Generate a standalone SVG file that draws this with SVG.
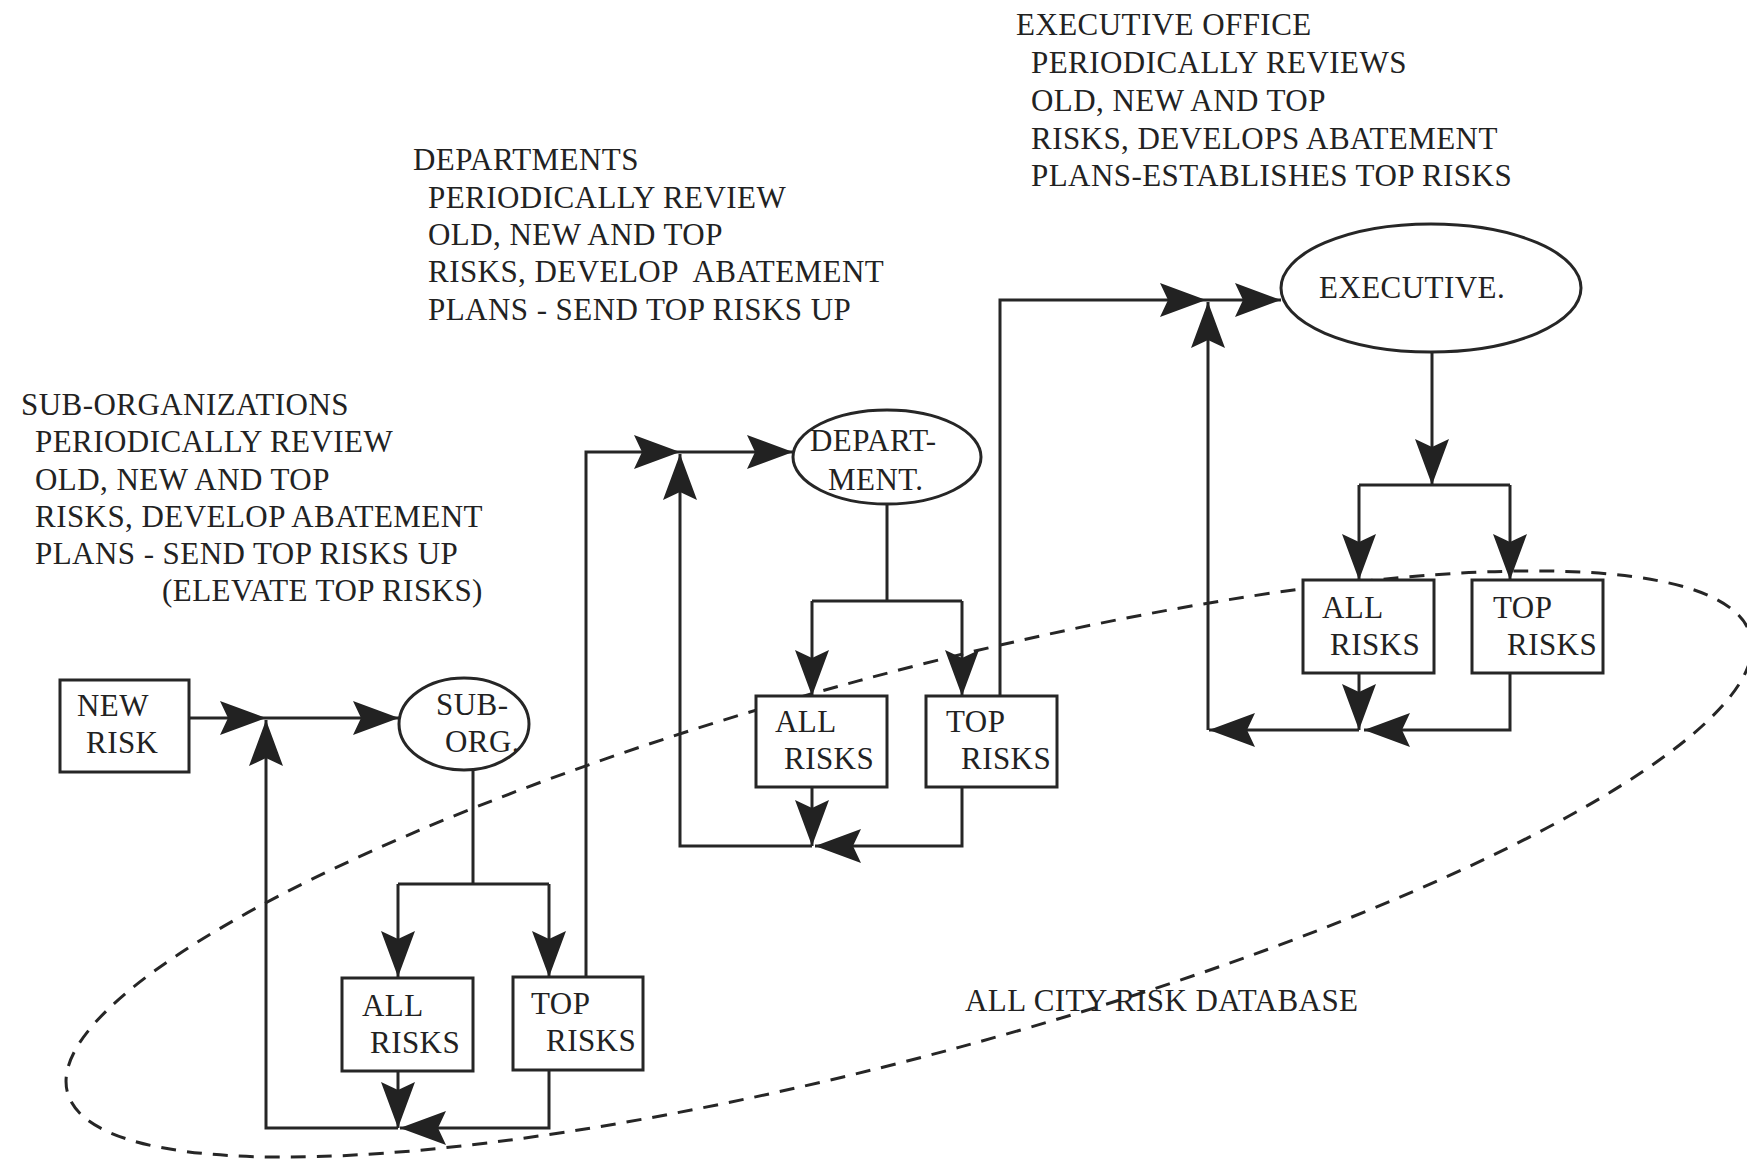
<svg xmlns="http://www.w3.org/2000/svg" width="1747" height="1159" viewBox="0 0 1747 1159">
<defs>
<style>
.t{font-family:"Liberation Serif","Times New Roman",serif;font-size:31px;fill:#222;letter-spacing:0.45px}
.box{fill:#fff;stroke:#262626;stroke-width:3}
.ell{fill:#fff;stroke:#262626;stroke-width:3}
.ln{fill:none;stroke:#262626;stroke-width:3}
.ar{fill:none;stroke:#262626;stroke-width:3;marker-end:url(#ah)}
.db{fill:none;stroke:#262626;stroke-width:3;stroke-dasharray:15 11}
</style>
<marker id="ah" markerUnits="userSpaceOnUse" markerWidth="48" markerHeight="36" viewBox="0 0 48 36" refX="47" refY="18" orient="auto">
<path d="M47,18 L1,1 L9,18 L1,35 Z" fill="#222"/>
</marker>
</defs>
<rect x="0" y="0" width="1747" height="1159" fill="#fff"/>

<g id="database">
<ellipse class="db" cx="909" cy="864" rx="872" ry="190" transform="rotate(-15.2 909 864)"/>
<text class="t" x="965" y="1011">ALL CITY RISK DATABASE</text>
</g>

<g id="notes">
<text class="t" x="21" y="415">SUB-ORGANIZATIONS</text>
<text class="t" x="35" y="452">PERIODICALLY REVIEW</text>
<text class="t" x="35" y="490">OLD, NEW AND TOP</text>
<text class="t" x="35" y="527">RISKS, DEVELOP ABATEMENT</text>
<text class="t" x="35" y="564">PLANS - SEND TOP RISKS UP</text>
<text class="t" x="162" y="601">(ELEVATE TOP RISKS)</text>

<text class="t" x="413" y="170">DEPARTMENTS</text>
<text class="t" x="428" y="208">PERIODICALLY REVIEW</text>
<text class="t" x="428" y="245">OLD, NEW AND TOP</text>
<text class="t" x="428" y="282" xml:space="preserve">RISKS, DEVELOP  ABATEMENT</text>
<text class="t" x="428" y="320">PLANS - SEND TOP RISKS UP</text>

<text class="t" x="1016" y="35">EXECUTIVE OFFICE</text>
<text class="t" x="1031" y="73">PERIODICALLY REVIEWS</text>
<text class="t" x="1031" y="111">OLD, NEW AND TOP</text>
<text class="t" x="1031" y="149">RISKS, DEVELOPS ABATEMENT</text>
<text class="t" x="1031" y="186">PLANS-ESTABLISHES TOP RISKS</text>
</g>

<g id="connectors">
<path class="ar" d="M189,718 H266"/>
<path class="ar" d="M266,718 H399"/>
<path class="ln" d="M473,770 V884 M398,884 H549"/>
<path class="ar" d="M398,884 V977"/>
<path class="ar" d="M549,884 V977"/>
<path class="ar" d="M398,1071 V1128"/>
<path class="ar" d="M549,1070 V1128 H400"/>
<path class="ar" d="M398,1128 H266 V720"/>
<path class="ar" d="M586,977 V452 H680"/>
<path class="ar" d="M680,452 H793"/>
<path class="ln" d="M887,504 V601 M812,601 H962"/>
<path class="ar" d="M812,601 V696"/>
<path class="ar" d="M962,601 V696"/>
<path class="ar" d="M812,787 V846"/>
<path class="ar" d="M962,787 V846 H815"/>
<path class="ar" d="M812,846 H680 V454"/>
<path class="ar" d="M1000,696 V300 H1206"/>
<path class="ar" d="M1206,300 H1281"/>
<path class="ar" d="M1432,352 V485"/>
<path class="ln" d="M1359,485 H1510"/>
<path class="ar" d="M1359,485 V580"/>
<path class="ar" d="M1510,485 V580"/>
<path class="ar" d="M1359,673 V730"/>
<path class="ar" d="M1510,673 V730 H1364"/>
<path class="ar" d="M1359,730 H1209"/>
<path class="ar" d="M1208,730 V302"/>
</g>

<g id="new-risk">
<rect class="box" x="60" y="680" width="129" height="92"/>
<text class="t" x="77" y="716">NEW</text>
<text class="t" x="86" y="753">RISK</text>
</g>

<g id="sub-org">
<ellipse class="ell" cx="464" cy="724" rx="65" ry="46"/>
<text class="t" x="436" y="715">SUB-</text>
<text class="t" x="445" y="752">ORG.</text>
</g>

<g id="sub-all-risks">
<rect class="box" x="342" y="978" width="131" height="93"/>
<text class="t" x="362" y="1016">ALL</text>
<text class="t" x="370" y="1053">RISKS</text>
</g>

<g id="sub-top-risks">
<rect class="box" x="513" y="977" width="130" height="93"/>
<text class="t" x="531" y="1014">TOP</text>
<text class="t" x="546" y="1051">RISKS</text>
</g>

<g id="department">
<ellipse class="ell" cx="887" cy="457" rx="94" ry="47"/>
<text class="t" x="810" y="451">DEPART-</text>
<text class="t" x="828" y="490">MENT.</text>
</g>

<g id="dept-all-risks">
<rect class="box" x="756" y="696" width="131" height="91"/>
<text class="t" x="775" y="732">ALL</text>
<text class="t" x="784" y="769">RISKS</text>
</g>

<g id="dept-top-risks">
<rect class="box" x="926" y="696" width="131" height="91"/>
<text class="t" x="946" y="732">TOP</text>
<text class="t" x="961" y="769">RISKS</text>
</g>

<g id="executive">
<ellipse class="ell" cx="1431" cy="288" rx="150" ry="64"/>
<text class="t" x="1319" y="298">EXECUTIVE.</text>
</g>

<g id="exec-all-risks">
<rect class="box" x="1303" y="580" width="131" height="93"/>
<text class="t" x="1322" y="618">ALL</text>
<text class="t" x="1330" y="655">RISKS</text>
</g>

<g id="exec-top-risks">
<rect class="box" x="1472" y="580" width="131" height="93"/>
<text class="t" x="1493" y="618">TOP</text>
<text class="t" x="1507" y="655">RISKS</text>
</g>
</svg>
